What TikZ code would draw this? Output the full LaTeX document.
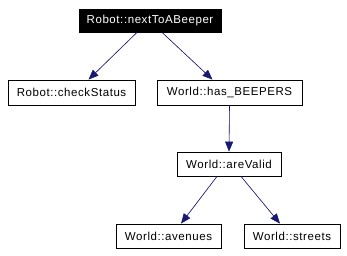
\documentclass[tikz,border=0pt]{standalone}
\usepackage{fontspec}
\setmainfont{Liberation Sans}[LetterSpace=5]
\usetikzlibrary{arrows.meta,calc}
\definecolor{edgeblue}{HTML}{191970}
\begin{document}
\begin{tikzpicture}[x=1pt,y=-1pt,
  box/.style={draw=black,line width=0.8pt,fill=white,rectangle,inner sep=0pt,font=\fontsize{11.5}{13}\selectfont},
  rootbox/.style={box,fill=black,text=white},
  call/.style={draw=edgeblue,line width=0.6pt,-{Triangle[length=10pt,width=8pt]},fill=edgeblue}]
  \useasboundingbox (0,0) rectangle (347,255);
  \fill[white] (0,0) rectangle (347,255);
  \node[rootbox,minimum width=142pt,minimum height=23pt] (root) at (150,20.5) {Robot::nextToABeeper};
  \node[box,minimum width=127pt,minimum height=25pt] (check) at (71.5,92.5) {Robot::checkStatus};
  \node[box,minimum width=145pt,minimum height=25pt] (has) at (229.5,92.5) {World::has\_BEEPERS};
  \node[box,minimum width=104pt,minimum height=24pt] (valid) at (229,164) {World::areValid};
  \node[box,minimum width=105pt,minimum height=24pt] (aven) at (168.5,236) {World::avenues};
  \node[box,minimum width=96pt,minimum height=24pt] (street) at (292,236) {World::streets};
  \draw[call] ($(root.south)+(-13,0)$) -- ($(check.north)+(17,0)$);
  \draw[call] ($(root.south)+(12,0)$) -- ($(has.north)+(-17,0)$);
  \draw[call] (has.south) -- (valid.north);
  \draw[call] ($(valid.south)+(-12,0)$) -- ($(aven.north)+(12.5,0)$);
  \draw[call] ($(valid.south)+(12,0)$) -- ($(street.north)+(-12,0)$);
\end{tikzpicture}
\end{document}
